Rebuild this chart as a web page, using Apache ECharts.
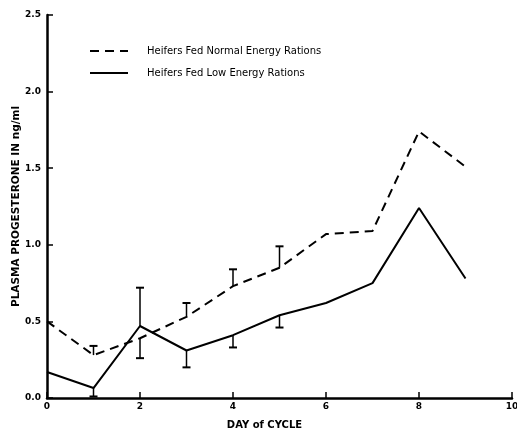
<!DOCTYPE html>
<html>
<head>
<meta charset="utf-8">
<script src="https://cdn.jsdelivr.net/npm/echarts@6/dist/echarts.min.js"></script>
<style>
  html, body { margin: 0; padding: 0; background: #fff; }
  #chart { width: 517px; height: 430px; }
</style>
</head>
<body>
<div id="chart"></div>
<script>
// day of cycle
var days = [0, 1, 2, 3, 4, 5, 6, 7, 8, 9];
// plasma progesterone, ng/ml
var normalEnergy = [0.50, 0.28, 0.39, 0.53, 0.73, 0.85, 1.07, 1.09, 1.74, 1.51];
var lowEnergy = [0.17, 0.065, 0.47, 0.31, 0.41, 0.54, 0.62, 0.75, 1.24, 0.78];
// error bar ends [day, value at mean, value at cap]
var normalErr = [[1, 0.28, 0.34], [2, 0.39, 0.26], [3, 0.53, 0.62], [4, 0.73, 0.84], [5, 0.85, 0.99]];
var lowErr = [[1, 0.065, 0.01], [2, 0.47, 0.72], [3, 0.31, 0.20], [4, 0.41, 0.33], [5, 0.54, 0.46]];
var yTicks = ['0.0', '0.5', '1.0', '1.5', '2.0', '2.5'];

var legendNames = ['Heifers Fed Normal Energy Rations', 'Heifers Fed Low Energy Rations'];

function pairs(vals) {
    return days.map(function (d, i) { return [d, vals[i]]; });
}

// vertical bar with a small cap at the end
function errRender(params, api) {
    var p0 = api.coord([api.value(0), api.value(1)]);
    var p1 = api.coord([api.value(0), api.value(2)]);
    var cap = 4;
    return {
        type: 'group',
        children: [
            { type: 'line', shape: { x1: p0[0], y1: p0[1], x2: p1[0], y2: p1[1] }, style: { stroke: '#000', lineWidth: 1.5 } },
            { type: 'line', shape: { x1: p1[0] - cap, y1: p1[1], x2: p1[0] + cap, y2: p1[1] }, style: { stroke: '#000', lineWidth: 2 } }
        ]
    };
}

var myChart = echarts.init(document.getElementById('chart'));
var option = {
    backgroundColor: '#fff',
    animation: false,
    textStyle: { fontFamily: 'DejaVu Sans, sans-serif', color: '#000' },
    grid: { left: 47, right: 5, top: 15, bottom: 32, containLabel: false, outerBoundsMode: 'none' },
    legend: {
        orient: 'vertical',
        left: 84,
        top: 41,
        itemWidth: 38,
        itemHeight: 10,
        itemGap: 12,
        data: legendNames,
        itemStyle: { color: 'transparent', borderWidth: 0 },
        textStyle: { fontSize: 10, color: '#000', padding: [0, 0, 0, 14] }
    },
    xAxis: {
        type: 'value',
        min: 0,
        max: 10,
        interval: 2,
        name: 'DAY of CYCLE',
        nameLocation: 'middle',
        nameGap: 22,
        nameMoveOverlap: false,
        nameTextStyle: { fontSize: 10, fontWeight: 'bold', color: '#000', padding: [0, 30, 0, 0] },
        axisLine: { lineStyle: { color: '#000', width: 2.5 } },
        axisTick: { inside: true, length: 6, lineStyle: { color: '#000', width: 1.5 } },
        axisLabel: { fontSize: 9, fontWeight: 'bold', color: '#000', margin: 4 },
        splitLine: { show: false }
    },
    yAxis: {
        type: 'value',
        min: 0,
        max: 2.5,
        interval: 0.5,
        name: 'PLASMA PROGESTERONE IN ng/ml',
        nameLocation: 'middle',
        nameGap: 25,
        nameMoveOverlap: false,
        nameRotate: 90,
        nameTextStyle: { fontSize: 10.5, fontWeight: 'bold', color: '#000' },
        axisLine: { show: true, lineStyle: { color: '#000', width: 2.5 } },
        axisTick: { show: true, inside: true, length: 6, lineStyle: { color: '#000', width: 1.5 } },
        axisLabel: {
            fontSize: 9, fontWeight: 'bold', color: '#000', margin: 6,
            formatter: function (v) { return yTicks[Math.round(v / 0.5)]; }
        },
        splitLine: { show: false }
    },
    series: [
        {
            name: legendNames[0],
            type: 'line',
            data: pairs(normalEnergy),
            symbol: 'none',
            itemStyle: { color: '#000' },
            lineStyle: { color: '#000', width: 2, type: [9, 6] }
        },
        {
            name: legendNames[1],
            type: 'line',
            data: pairs(lowEnergy),
            symbol: 'none',
            itemStyle: { color: '#000' },
            lineStyle: { color: '#000', width: 2 }
        },
        {
            type: 'custom',
            renderItem: errRender,
            data: normalErr,
            silent: true,
            z: 3
        },
        {
            type: 'custom',
            renderItem: errRender,
            data: lowErr,
            silent: true,
            z: 3
        }
    ]
};
myChart.setOption(option);
</script>
</body>
</html>
